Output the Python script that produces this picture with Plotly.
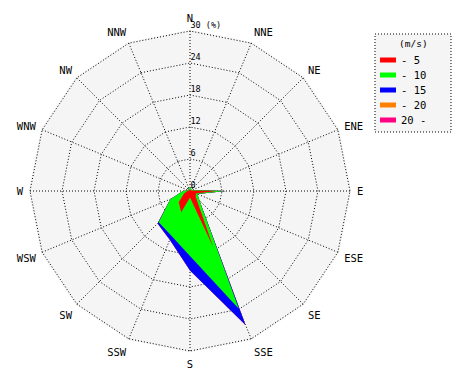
import numpy as np
import plotly.graph_objects as go

directions = ["N", "NNE", "NE", "ENE", "E", "ESE", "SE", "SSE",
              "S", "SSW", "SW", "WSW", "W", "WNW", "NW", "NNW"]

# frequency (%) per speed class, per direction
spd_0_5   = [0.3, 0.2, 0.2, 0.3, 5.0, 1.2, 1.5, 11.3, 1.2, 4.3, 3.0, 1.2, 0.5, 0.2, 0.2, 0.3]
spd_5_10  = [0.5, 0.3, 0.1, 0.2, 1.6, 0.3, 1.0, 12.6, 11.0, 4.8, 5.3, 2.8, 0.8, 0.2, 0.2, 0.3]
spd_10_15 = [0.0, 0.0, 0.0, 0.0, 0.2, 0.0, 0.0, 3.3, 2.7, 0.8, 0.3, 0.0, 0.0, 0.0, 0.0, 0.0]
spd_15_20 = [0.0] * 16
spd_20_up = [0.0] * 16

class_names = ["- 5", "- 10", "- 15", "- 20", "20 -"]
class_colors = ["#ff0000", "#00ff00", "#0000ff", "#ff8000", "#ff0080"]
legend_title = "(m/s)"
radial_ticks = [0, 6, 12, 18, 24, 30]
radial_labels = ["0", "6", "12", "18", "24", "30 (%)"]

series = [spd_0_5, spd_5_10, spd_10_15, spd_15_20, spd_20_up]
cum = np.cumsum(np.array(series), axis=0)

FONT = "DejaVu Sans Mono"
W, H = 470, 380
PAGE_OFF = 8          # the page body margin shifts the figure by 8 px
CX, CY, R30 = 190, 191, 160
RMAX = 30.25
RPIX = R30 * RMAX / 30


def px(x):
    return (x - PAGE_OFF) / W


def py(y):
    return 1 - (y - PAGE_OFF) / H


fig = go.Figure()

for i in reversed(range(len(series))):
    fig.add_trace(go.Scatterpolar(
        r=list(cum[i]), theta=directions, mode="lines", fill="toself",
        fillcolor=class_colors[i], line=dict(width=0, color=class_colors[i]),
        name=class_names[i], showlegend=False, hoverinfo="skip"))

# hand-drawn legend (box, colour bars, labels)
shapes = [dict(type="rect", xref="paper", yref="paper",
               x0=px(375), x1=px(451), y0=py(132), y1=py(34),
               line=dict(color="black", width=1, dash="1px,2px"),
               fillcolor="#f5f5f5", layer="below")]
annotations = [dict(text=legend_title, xref="paper", yref="paper",
                    x=px(413), y=py(44), showarrow=False,
                    xanchor="center", yanchor="middle",
                    font=dict(family=FONT, size=9.5, color="black"))]
for i, (name, col) in enumerate(zip(class_names, class_colors)):
    yc = 60 + 15 * i
    shapes.append(dict(type="rect", xref="paper", yref="paper",
                       x0=px(380), x1=px(396), y0=py(yc + 2.5), y1=py(yc - 2.5),
                       line=dict(width=0), fillcolor=col))
    annotations.append(dict(text=name, xref="paper", yref="paper",
                            x=px(399), y=py(yc), showarrow=False,
                            xanchor="left", yanchor="middle",
                            font=dict(family=FONT, size=10.5, color="black")))

fig.update_layout(
    width=W, height=H,
    margin=dict(l=0, r=0, t=0, b=0),
    paper_bgcolor="white",
    showlegend=False,
    font=dict(family=FONT, size=10, color="black"),
    polar=dict(
        domain=dict(x=[px(CX - RPIX), px(CX + RPIX)],
                    y=[py(CY + RPIX), py(CY - RPIX)]),
        bgcolor="#f5f5f5",
        gridshape="linear",
        angularaxis=dict(
            rotation=90, direction="clockwise", type="category",
            categoryarray=directions,
            showline=False, ticks="outside", ticklen=3, tickcolor="rgba(0,0,0,0)",
            showgrid=True, gridcolor="black", gridwidth=1, griddash="1px,2px",
            tickfont=dict(family=FONT, size=10.5, color="black"),
        ),
        radialaxis=dict(
            range=[0, RMAX], angle=90, side="clockwise",
            tickvals=radial_ticks, ticktext=[t + "<br> " for t in radial_labels],
            showline=False, ticks="",
            showgrid=True, gridcolor="black", gridwidth=1, griddash="1px,2px",
            tickfont=dict(family=FONT, size=8.5, color="black"),
            tickangle=90,
        ),
    ),
    shapes=shapes,
    annotations=annotations,
)

fig.write_html("out.html")
